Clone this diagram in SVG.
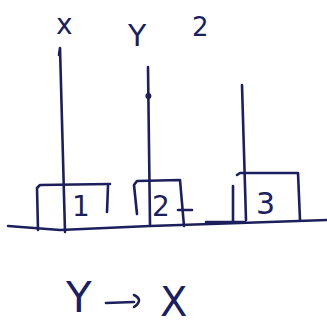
<svg xmlns="http://www.w3.org/2000/svg" width="327" height="329" viewBox="0 0 327 329">
<style>
.s{fill:none;stroke:#1c1f5c;stroke-width:2.6;stroke-linecap:round;stroke-linejoin:round}
.t{font-family:"DejaVu Sans",sans-serif;fill:#1c1f5c}
</style>
<rect width="327" height="329" fill="#ffffff"/>
<g id="labels">
<text class="t" x="56" y="34" font-size="28">x</text>
<text class="t" x="128" y="46" font-size="30">Y</text>
<text class="t" x="192" y="36" font-size="26">2</text>
</g>
<g id="ground"><path class="s" d="M8,226 L60,230 L150,226 L240,223 L327,220"/></g>
<g id="box1">
<path class="s" d="M38,230 L37,188 L40,185 L110,184"/>
<path class="s" d="M108,186 L107,212"/>
<text class="t" x="72" y="216" font-size="28">1</text>
</g>
<g id="box2">
<path class="s" d="M137,214 L134,185 L137,181 L180,180 L184,226"/>
<text class="t" x="152" y="216" font-size="28">2</text>
<path class="s" d="M178,210 L192,210"/>
</g>
<g id="box3">
<path class="s" d="M233,186 L233,222 M206,222 L245,222"/>
<path class="s" d="M237,175 L240,173 L298,173 L300,220"/>
<text class="t" x="256" y="214" font-size="30">3</text>
</g>
<g id="connectors">
<path class="s" d="M59,55 L60,48 L65,232"/>
<path class="s" d="M148,67 L150,225"/>
<circle cx="148.4" cy="96" r="3" fill="#1c1f5c"/>
<path class="s" d="M242,85 L246,220"/>
</g>
<g id="caption">
<text class="t" x="66" y="312" font-size="42">Y</text>
<path class="s" d="M106,303 L134,302 M134,295 Q144,300 134,307"/>
<text class="t" x="160" y="316" font-size="40">X</text>
</g>
</svg>
